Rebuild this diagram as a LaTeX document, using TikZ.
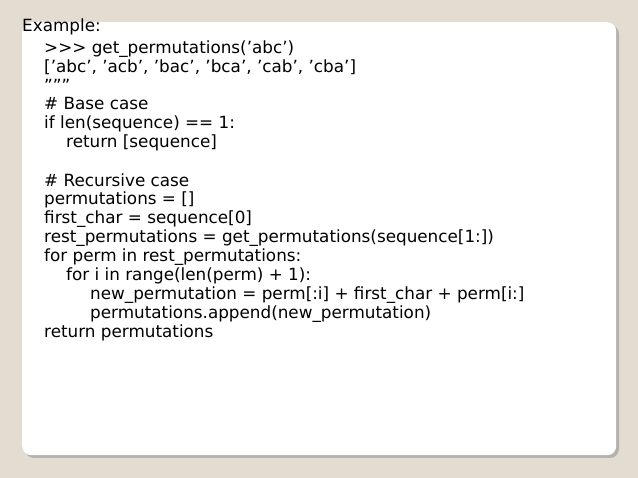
\documentclass[tikz,border=0pt]{standalone}
\usepackage{fontspec}
\setmainfont{DejaVu Sans}
\newcommand\sq{\symbol{"27}}
\newcommand\dq{\symbol{"22}}
\begin{document}
\begin{tikzpicture}[x=1pt,y=-1pt,
  codeline/.style={anchor=base west,inner sep=0pt,font=\fontsize{16.8}{19}\selectfont}]
\fill[fill={rgb,255:red,227;green,220;blue,208}] (0,0) rectangle (638,478);
\useasboundingbox (0,0) rectangle (638,478);
\fill[gray!60,rounded corners=9pt] (25,25) rectangle (619,458);
\node[fill=white,rounded corners=9pt,minimum width=594pt,minimum height=433pt,anchor=north west,inner sep=0pt] (card) at (22,22) {};
\node[codeline] (l0) at (22,32) {Example:};
\node[codeline] (l1) at (44,54) {>{}>{}> get\_permutations(\sq abc\sq)};
\node[codeline] (l2) at (44,73) {[\sq abc\sq, \sq acb\sq, \sq bac\sq, \sq bca\sq, \sq cab\sq, \sq cba\sq]};
\node[codeline] (l3) at (44,92) {\dq\dq\dq};
\node[codeline] (l4) at (44,110) {\# Base case};
\node[codeline] (l5) at (44,129) {if len(sequence) == 1:};
\node[codeline] (l6) at (66,148) {return [sequence]};
\node[codeline] (l7) at (44,187) {\# Recursive case};
\node[codeline] (l8) at (44,205) {permutations = []};
\node[codeline] (l9) at (44,224) {first\_char = sequence[0]};
\node[codeline] (l10) at (44,243) {rest\_permutations = get\_permutations(sequence[1:])};
\node[codeline] (l11) at (44,262) {for perm in rest\_permutations:};
\node[codeline] (l12) at (66,281) {for i in range(len(perm) + 1):};
\node[codeline] (l13) at (90,300) {new\_permutation = perm[:i] + first\_char + perm[i:]};
\node[codeline] (l14) at (90,319) {permutations.append(new\_permutation)};
\node[codeline] (l15) at (44,338) {return permutations};
\end{tikzpicture}
\end{document}
